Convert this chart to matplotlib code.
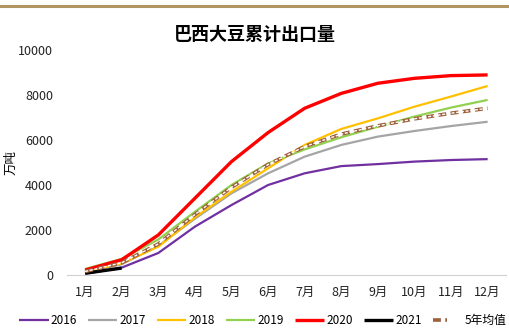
import matplotlib
matplotlib.use("Agg")
import matplotlib.pyplot as plt
from matplotlib.lines import Line2D
from matplotlib.legend_handler import HandlerTuple

plt.rcParams['font.family'] = ['Noto Sans CJK SC', 'DejaVu Sans']

months = ['1月', '2月', '3月', '4月', '5月', '6月', '7月', '8月', '9月', '10月', '11月', '12月']
y2016 = [60, 330, 980, 2150, 3110, 4000, 4520, 4840, 4930, 5040, 5110, 5150]
y2017 = [100, 480, 1300, 2500, 3630, 4520, 5260, 5780, 6150, 6400, 6620, 6810]
y2018 = [140, 520, 1260, 2560, 3700, 4740, 5780, 6490, 6960, 7480, 7930, 8400]
y2019 = [270, 720, 1580, 2810, 4000, 4960, 5580, 6120, 6590, 7040, 7440, 7780]
y2020 = [220, 680, 1780, 3410, 5040, 6330, 7410, 8070, 8520, 8740, 8860, 8890]
y2021 = [80, 310]
avg5 = [158, 546, 1380, 2690, 3896, 4910, 5710, 6260, 6630, 6940, 7190, 7410]

series = [
    ('2016', y2016, '#7030A0', 1.6),
    ('2017', y2017, '#A5A5A5', 1.6),
    ('2018', y2018, '#FFC000', 1.6),
    ('2019', y2019, '#92D050', 1.6),
    ('2020', y2020, '#FF0000', 2.4),
    ('2021', y2021, '#000000', 2.4),
]

fig = plt.figure(figsize=(5.1, 3.33), dpi=100)
ax = fig.add_axes([0.131, 0.174, 0.861, 0.676])

x = list(range(len(months)))
handles, labels = [], []
for name, vals, col, lw in series:
    ln, = ax.plot(x[:len(vals)], vals, color=col, lw=lw, solid_capstyle='butt')
    handles.append(ln)
    labels.append(name)

# hollow dashed line for the 5-year average
dash = (0, (2.2, 1.2))
ax.plot(x, avg5, color='#9E5F3A', lw=2.6, linestyle=dash, zorder=5)
ax.plot(x, avg5, color='white', lw=1.0, linestyle=dash, zorder=6)
h_out = Line2D([], [], color='#9E5F3A', lw=2.6, linestyle=dash)
h_in = Line2D([], [], color='white', lw=1.0, linestyle=dash)
handles.append((h_out, h_in))
labels.append('5年均值')

ax.set_xlim(-0.5, 11.5)
ax.set_ylim(0, 10000)
ax.set_yticks(range(0, 10001, 2000))
ax.set_xticks(x)
ax.set_xticklabels(months)
ax.tick_params(axis='both', length=0, labelsize=9, colors='#222222')
ax.tick_params(axis='y', pad=10)
ax.tick_params(axis='x', pad=8)
for s in ['top', 'right', 'left']:
    ax.spines[s].set_visible(False)
ax.spines['bottom'].set_color('#D0D0D0')
ax.set_ylabel('万吨', fontsize=9)
ax.yaxis.set_label_coords(-0.112, 0.5)

fig.text(0.5, 0.895, '巴西大豆累计出口量', ha='center', va='center',
         fontsize=13, fontweight='bold')
fig.add_artist(Line2D([0, 1], [0.982, 0.982], color='#B09560', lw=2.2,
                      transform=fig.transFigure))

fig.legend(handles, labels, loc='center', bbox_to_anchor=(0.515, 0.038), ncol=7,
           frameon=False, fontsize=8.5, handlelength=2.5, handletextpad=0.2,
           columnspacing=0.9, borderpad=0.1,
           handler_map={tuple: HandlerTuple(ndivide=None)})

fig.savefig('out.png', dpi=100)
